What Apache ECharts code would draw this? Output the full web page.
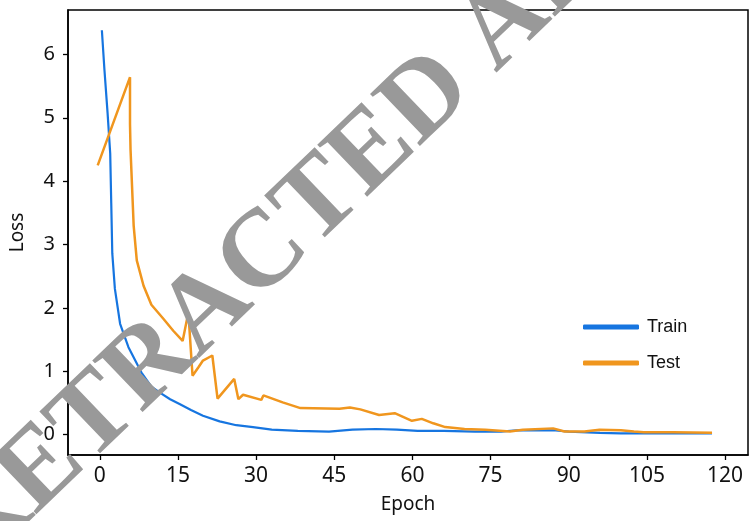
<!DOCTYPE html>
<html>
<head>
<meta charset="utf-8">
<script src="https://cdn.jsdelivr.net/npm/echarts@6/dist/echarts.min.js"></script>
<style>
html,body{margin:0;padding:0;background:#fff;}
#chart{width:749px;height:521px;}
</style>
</head>
<body>
<div id="chart"></div>
<script>
// Data (epoch, loss)
var trainEpoch = [0.4,0.9,1.5,2.0,2.2,2.4,2.9,3.9,5.5,8.0,9.9,11.6,13.5,15.4,17.5,19.8,23,26.2,29.4,33,38,44,48.5,53,57,61,66,72,77,80,87,90,96,100,110,117.5];
var trainLoss  = [6.38,5.75,5.07,4.44,3.65,2.86,2.3,1.75,1.38,0.98,0.76,0.66,0.56,0.48,0.39,0.30,0.21,0.15,0.12,0.08,0.06,0.05,0.08,0.09,0.08,0.06,0.06,0.05,0.05,0.07,0.07,0.05,0.03,0.02,0.02,0.02];

var testEpoch = [-0.4,5.8,5.8,5.9,6.2,6.5,7.1,8.4,9.9,12.2,14.1,15.9,17.0,17.8,18.9,19.8,21.6,22.6,25.8,26.6,27.5,31,31.4,35.1,38.5,46,48,50,53.6,56.6,59.9,61.8,64,66.3,70,74,78.7,81.2,87,89.2,93,95.9,100,102.5,104.4,110,117.5];
var testLoss  = [4.25,5.64,4.9,4.5,3.9,3.3,2.75,2.35,2.05,1.83,1.64,1.48,1.93,0.93,1.06,1.17,1.25,0.57,0.88,0.56,0.63,0.55,0.62,0.51,0.42,0.41,0.43,0.40,0.31,0.34,0.22,0.25,0.18,0.12,0.09,0.08,0.05,0.08,0.10,0.05,0.05,0.08,0.07,0.05,0.04,0.04,0.03];

var xTicks = [0,15,30,45,60,75,90,105,120];
var yTicks = [0,1,2,3,4,5,6];
var seriesNames = ['Train','Test'];
var watermarkText = 'RETRACTED ARTICLE';

function pairs(xs, ys){ return xs.map(function(x,i){ return [x, ys[i]]; }); }

var chart = echarts.init(document.getElementById('chart'), null, {renderer:'canvas'});
var tickFont = '"Noto Sans", "Open Sans", sans-serif';
chart.setOption({
  animation: false,
  backgroundColor: '#fff',
  grid: {left:64, top:10, right:1, bottom:66, show:true, borderColor:'#000', borderWidth:1.5, backgroundColor:'transparent'},
  legend: {
    orient:'vertical', left:578, top:313, itemWidth:56, itemHeight:5, itemGap:18,
    icon:'roundRect',
    textStyle:{fontFamily:'"Liberation Sans", Arial, sans-serif', fontSize:18, color:'#111', padding:[0,0,0,3]},
    data: seriesNames
  },
  xAxis: {
    type:'value', min:-6.1, max:124.4,
    name:'Epoch', nameLocation:'middle', nameGap:40,
    nameTextStyle:{fontFamily:tickFont, fontSize:19, color:'#111'},
    splitLine:{show:false},
    axisLine:{show:true, onZero:false, lineStyle:{color:'#000', width:1.5}},
    axisTick:{show:true, length:5, lineStyle:{color:'#000', width:1.3}, customValues:xTicks},
    axisLabel:{fontFamily:tickFont, fontSize:21, color:'#111', margin:11, customValues:xTicks}
  },
  yAxis: {
    type:'value', min:-0.32, max:6.70,
    name:'Loss', nameLocation:'middle', nameGap:41, nameRotate:90,
    nameTextStyle:{fontFamily:tickFont, fontSize:19, color:'#111'},
    splitLine:{show:false},
    axisLine:{show:true, onZero:false, lineStyle:{color:'#000', width:1.5}},
    axisTick:{show:true, length:5, lineStyle:{color:'#000', width:1.3}, customValues:yTicks},
    axisLabel:{fontFamily:tickFont, fontSize:20, color:'#111', margin:13, customValues:yTicks}
  },
  series: [
    {name:seriesNames[0], type:'line', data:pairs(trainEpoch, trainLoss), showSymbol:false, symbol:'none',
     lineStyle:{color:'#1675e0', width:2.2}, itemStyle:{color:'#1675e0'}, z:2},
    {name:seriesNames[1], type:'line', data:pairs(testEpoch, testLoss), showSymbol:false, symbol:'none',
     lineStyle:{color:'#f0961e', width:2.5}, itemStyle:{color:'#f0961e'}, z:3}
  ],
  graphic: [{
    type:'text', x:-42, y:550, rotation:0.765, z:100, silent:true,
    style:{text:watermarkText, font:'bold 110px "Liberation Serif", "DejaVu Serif", serif', fill:'#999999',
           align:'left', verticalAlign:'middle'}
  }]
});
</script>
</body>
</html>
